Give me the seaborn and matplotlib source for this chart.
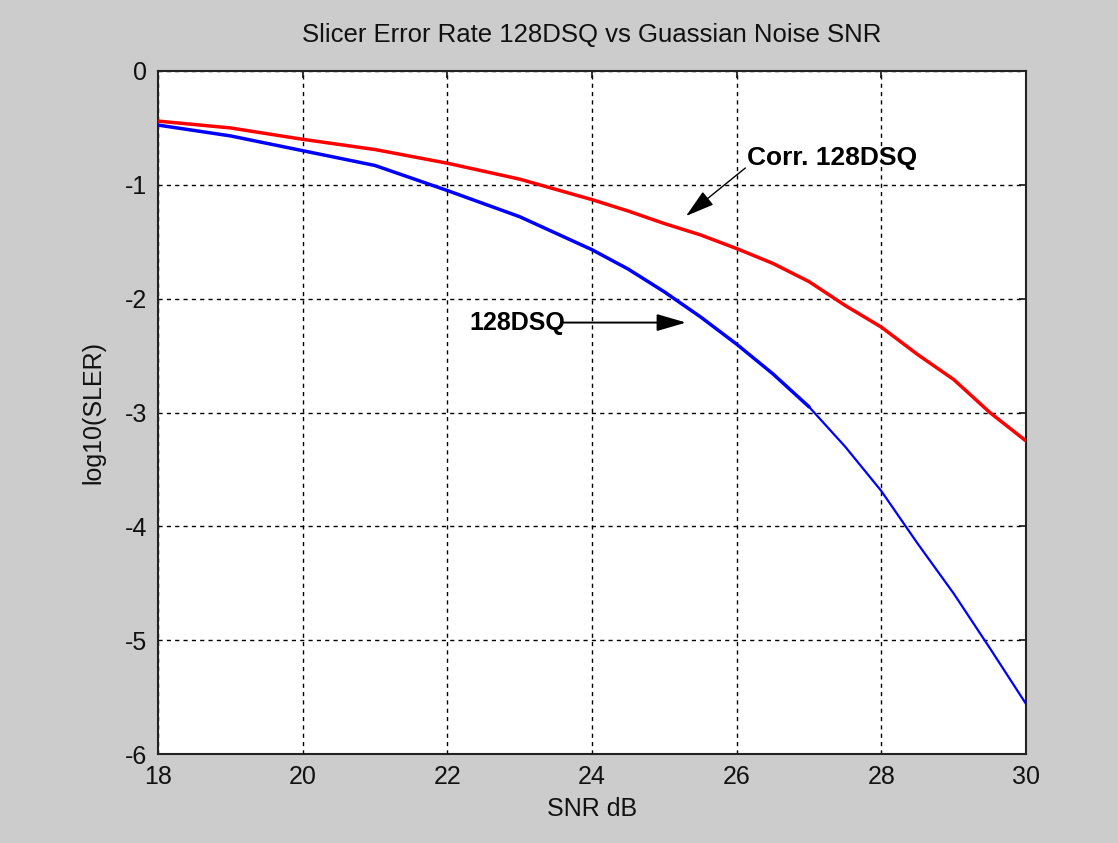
import matplotlib
matplotlib.use("Agg")
import matplotlib.pyplot as plt
import seaborn as sns
import pandas as pd

# ---- data ----
snr_db = [18, 19, 20, 21, 22, 23, 24, 24.5, 25, 25.5, 26, 26.5, 27, 27.5, 28, 28.5, 29, 29.5, 30]
corr_128dsq = [-0.44, -0.50, -0.60, -0.69, -0.81, -0.95, -1.13, -1.23, -1.34, -1.44, -1.56, -1.69,
               -1.85, -2.06, -2.25, -2.49, -2.71, -3.00, -3.25]
dsq_128 = [-0.475, -0.57, -0.70, -0.83, -1.05, -1.28, -1.57, -1.74, -1.94, -2.16, -2.40, -2.66,
           -2.95, -3.30, -3.69, -4.15, -4.59, -5.07, -5.56]
x_ticks = [18, 20, 22, 24, 26, 28, 30]
y_ticks = [0, -1, -2, -3, -4, -5, -6]

title = "Slicer Error Rate 128DSQ vs Guassian Noise SNR"
xlabel = "SNR dB"
ylabel = "log10(SLER)"
label_corr = "Corr. 128DSQ"
label_dsq = "128DSQ"

sns.set_style("white")
plt.rcParams['font.family'] = ['Liberation Sans', 'DejaVu Sans']
plt.rcParams['axes.unicode_minus'] = False

df = pd.DataFrame({"snr": snr_db, "corr": corr_128dsq, "dsq": dsq_128})

fig = plt.figure(figsize=(11.18, 8.43), dpi=100, facecolor="#CCCCCC")
ax = fig.add_axes([158 / 1118, 1 - 754 / 843, (1026 - 158) / 1118, (754 - 71) / 843])
ax.set_facecolor("white")

sns.lineplot(data=df, x="snr", y="corr", ax=ax, color="#FF0000", linewidth=2.5, zorder=3)
split = snr_db.index(27)
sns.lineplot(data=df.iloc[:split + 1], x="snr", y="dsq", ax=ax, color="#0000FF", linewidth=2.5, zorder=3)
sns.lineplot(data=df.iloc[split:], x="snr", y="dsq", ax=ax, color="#0000FF", linewidth=1.6, zorder=3)

ax.set_xlim(18, 30)
ax.set_ylim(-6, 0)
ax.set_xticks(x_ticks)
ax.set_yticks(y_ticks)
ax.set_xticklabels([str(v) for v in x_ticks])
ax.set_yticklabels([str(v) for v in y_ticks])

ax.grid(True, color="black", linestyle=(0, (3, 3)), linewidth=1.0)
ax.tick_params(direction="in", length=5, width=1.2, top=True, right=True,
               labelsize=18, colors="#111111", pad=8)
for s in ax.spines.values():
    s.set_visible(True)
    s.set_color("#222222")
    s.set_linewidth(1.5)

ax.set_title(title, fontsize=18.5, color="#111111", pad=21)
ax.set_xlabel(xlabel, fontsize=18, color="#111111", labelpad=6)
ax.set_ylabel(ylabel, fontsize=18, color="#111111", labelpad=14)

# annotations
arrow_kw = dict(arrowstyle="-|>,head_length=1.2,head_width=0.35", mutation_scale=15,
                color="black", shrinkA=0, shrinkB=0)
ax.text(26.14, -0.76, label_corr, fontsize=19, fontweight="bold", color="black",
        va="center", ha="left")
ax.annotate("", xy=(25.30, -1.274), xytext=(26.12, -0.852),
            arrowprops=dict(lw=1.0, **arrow_kw))
ax.text(22.31, -2.21, label_dsq, fontsize=18, fontweight="bold", color="black",
        va="center", ha="left")
ax.annotate("", xy=(25.30, -2.21), xytext=(23.60, -2.21),
            arrowprops=dict(lw=1.4, **arrow_kw))

fig.savefig("out.png", dpi=100, facecolor=fig.get_facecolor())
